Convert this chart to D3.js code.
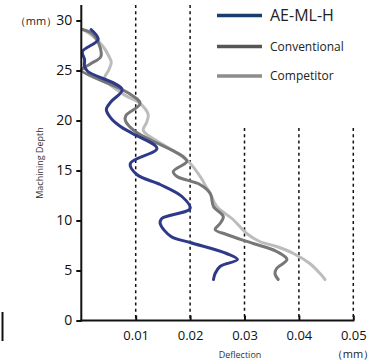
<!DOCTYPE html>
<html><head><meta charset="utf-8">
<script src="https://cdn.jsdelivr.net/npm/d3@7/dist/d3.min.js"></script>
<style>body{margin:0;background:#fff}svg{display:block}text{font-family:"Open Sans","Noto Sans",sans-serif}</style>
</head><body>
<svg id="c" width="389" height="361"></svg>
<script>
const seriesNames = ["AE-ML-H", "Conventional", "Competitor"];
const xTicks = [0.01, 0.02, 0.03, 0.04, 0.05];
const yTicks = [0, 5, 10, 15, 20, 25, 30];
// depth (mm) values, top to bottom, per series
const aeDepth = [29.1,28.1,26.9,26.1,25.4,24.9,23.1,21.9,21.1,20.2,19.4,18.7,17.2,15.7,14.6,13.6,12.4,11.2,10.2,9.7,8.4,7.8,6.7,6.1,5.4,4.7,4.1];
const aeDefl  = [0.0018,0.0031,0.0002,0.0006,0.0006,0.0012,0.0075,0.0055,0.0046,0.0055,0.0072,0.0094,0.0139,0.0090,0.0102,0.0145,0.0185,0.0200,0.0148,0.0145,0.0165,0.0200,0.0267,0.0287,0.0255,0.0246,0.0243];
const convDepth = [29.1,28.7,27.7,26.4,25.7,25.2,25.0,22.8,21.7,20.5,20.0,18.9,18.1,16.4,15.9,14.9,14.4,13.6,12.7,11.4,10.4,9.7,9.1,8.6,7.7,6.9,6.1,5.2,4.7,4.1];
const convDefl  = [0.0002,0.0020,0.0032,0.0036,0.0018,0.0003,0.0000,0.0085,0.0108,0.0082,0.0081,0.0099,0.0126,0.0187,0.0194,0.0169,0.0176,0.0218,0.0237,0.0243,0.0261,0.0255,0.0246,0.0267,0.0316,0.0359,0.0378,0.0359,0.0356,0.0362];
const compDepth = [29.1,28.4,27.4,26.5,25.8,25.0,24.2,22.6,21.7,20.6,19.8,19.0,17.6,16.0,14.2,13.5,12.7,11.4,10.1,8.7,7.9,7.4,6.7,5.7,4.7,4.1];
const compDefl  = [0.0003,0.0022,0.0040,0.0050,0.0055,0.0050,0.0043,0.0078,0.0108,0.0123,0.0120,0.0114,0.0150,0.0195,0.0221,0.0228,0.0237,0.0249,0.0279,0.0304,0.0328,0.0359,0.0390,0.0420,0.0439,0.0448];

const lineColors = ["#2e3a87", "#777777", "#bcbcbc"];
const legendColors = ["#173f6b", "#555555", "#8c8c8c"];

const svg = d3.select("#c");
const x = d3.scaleLinear().domain([0, 0.05]).range([81.3, 353.3]);
const y = d3.scaleLinear().domain([0, 30]).range([320.5, 20.5]);

// grid lines
const gridTop = {0.01: 5, 0.02: 5, 0.03: 128, 0.04: 128, 0.05: 128};
svg.append("g").selectAll("line").data(xTicks).join("line")
  .attr("x1", d => x(d)).attr("x2", d => x(d))
  .attr("y1", d => gridTop[d]).attr("y2", y(0))
  .attr("stroke", "#111").attr("stroke-width", 1.5).attr("stroke-dasharray", "3,3.2");

// series
const series = [
  {depth: aeDepth, defl: aeDefl},
  {depth: convDepth, defl: convDefl},
  {depth: compDepth, defl: compDefl}
];
const line = d3.line().x(d => x(d[1])).y(d => y(d[0])).curve(d3.curveCatmullRom.alpha(0.5));
[2, 1, 0].forEach(i => {
  const s = series[i];
  svg.append("path").datum(s.depth.map((d, j) => [d, s.defl[j]]))
    .attr("d", line).attr("fill", "none").attr("stroke", lineColors[i])
    .attr("stroke-width", 3).attr("stroke-linejoin", "round").attr("stroke-linecap", "round");
});

// axes
const yAxis = d3.axisLeft(y).tickValues(yTicks).tickSize(5).tickPadding(4).tickFormat(d3.format("d"));
const gy = svg.append("g").attr("transform", `translate(${x(0)},0)`).call(yAxis);
gy.select(".domain").remove();
gy.append("line").attr("x1", 0).attr("x2", 0).attr("y1", 5).attr("y2", y(0) + 1).attr("stroke", "#111").attr("stroke-width", 2);
gy.selectAll(".tick line").attr("stroke", "#111").attr("stroke-width", 2).attr("x2", -5);
gy.selectAll(".tick text").attr("font-size", 14).attr("fill", "#111");

const xAxis = d3.axisBottom(x).tickValues(xTicks).tickSize(0).tickPadding(10).tickFormat(d3.format(".2f"));
const gx = svg.append("g").attr("transform", `translate(0,${y(0)})`).call(xAxis);
gx.select(".domain").remove();
gx.append("line").attr("x1", x(0) - 1).attr("x2", x(0.05) + 1).attr("y1", 0).attr("y2", 0).attr("stroke", "#111").attr("stroke-width", 2);
gx.selectAll(".tick").append("line").attr("y1", 0).attr("y2", -5).attr("stroke", "#111").attr("stroke-width", 2);
gx.selectAll(".tick text").attr("font-size", 13).attr("fill", "#111");

// labels
svg.append("text").attr("x", 36).attr("y", 25).attr("text-anchor", "middle").attr("font-size", 11).attr("fill", "#222").text("（mm）");
svg.append("text").attr("x", 353).attr("y", 358).attr("text-anchor", "middle").attr("font-size", 11).attr("fill", "#222").text("（mm）");
svg.append("text").attr("x", 240).attr("y", 358).attr("text-anchor", "middle").attr("font-size", 9).attr("fill", "#333").text("Deflection");
svg.append("text").attr("transform", "translate(43,163) rotate(-90)").attr("text-anchor", "middle").attr("font-size", 9).attr("fill", "#333").text("Machining Depth");

// left bar
svg.append("line").attr("x1", 2.5).attr("x2", 2.5).attr("y1", 312).attr("y2", 341).attr("stroke", "#111").attr("stroke-width", 2);

// legend
const legY = [15.5, 46.5, 76];
const legSize = [16, 12, 12];
seriesNames.forEach((n, i) => {
  svg.append("line").attr("x1", 217).attr("x2", 262).attr("y1", legY[i]).attr("y2", legY[i])
    .attr("stroke", legendColors[i]).attr("stroke-width", 3.5);
  svg.append("text").attr("x", 270).attr("y", legY[i]).attr("dy", "0.36em")
    .attr("font-size", legSize[i]).attr("fill", "#222").text(n);
});
</script>
</body></html>
